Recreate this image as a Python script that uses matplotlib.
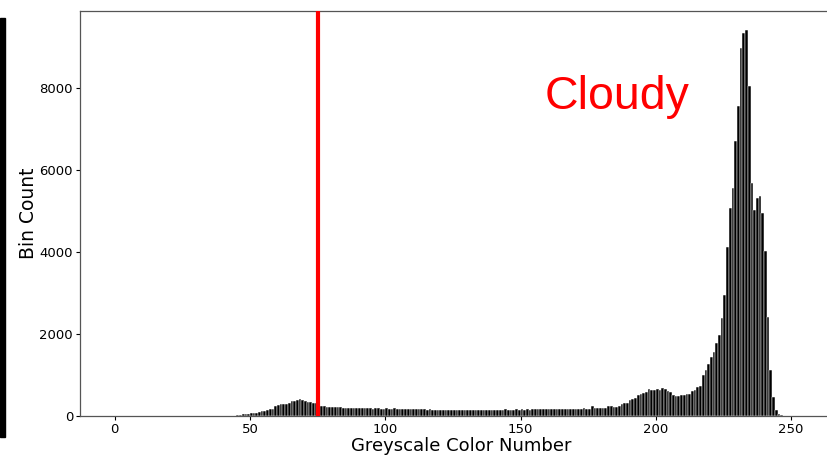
import matplotlib
matplotlib.use("Agg")
import matplotlib.pyplot as plt
from matplotlib.patches import Rectangle

# pixel counts per grey level 0..255
grey_levels = list(range(256))
counts = [
    # 0-44
    0, 0, 0, 0, 0, 0, 0, 0, 0, 0, 0, 0, 0, 0, 0,
    0, 0, 0, 0, 0, 0, 0, 0, 0, 0, 0, 0, 0, 0, 0,
    0, 0, 0, 0, 0, 0, 0, 0, 0, 0, 0, 0, 0, 0, 0,
    # 45-59
    20, 35, 50, 55, 60, 70, 75, 80, 100, 110, 110, 150, 160, 170, 240,
    # 60-75
    280, 290, 300, 300, 310, 360, 370, 380, 420, 400, 370, 350, 340, 320, 310, 280,
    # 76-85
    240, 235, 230, 225, 220, 220, 215, 210, 205, 200,
    # 86-100
    200, 195, 195, 190, 195, 200, 190, 185, 195, 180, 185, 190, 175, 180, 185,
    # 101-120
    180, 175, 185, 170, 175, 180, 170, 165, 175, 170,
    160, 165, 170, 160, 155, 165, 150, 155, 150, 145,
    # 121-140
    145, 150, 140, 145, 140, 150, 145, 140, 150, 145,
    140, 150, 145, 150, 140, 145, 150, 155, 145, 150,
    # 141-160
    150, 155, 150, 160, 150, 155, 150, 160, 155, 165,
    150, 160, 155, 165, 160, 165, 170, 160, 165, 170,
    # 161-180
    170, 165, 175, 170, 180, 175, 170, 175, 180, 170,
    175, 180, 185, 175, 180, 240, 190, 185, 200, 195,
    # 181-216
    200, 250, 240, 230, 230, 240, 300, 310, 320, 400,
    410, 430, 500, 540, 560, 580, 650, 640, 630, 660,
    640, 680, 670, 600, 590, 500, 480, 490, 520, 500,
    540, 530, 620, 640, 700, 720,
    # 217-246
    1000, 1120, 1260, 1450, 1570, 1780, 1980, 2390, 2950, 4130,
    5070, 5560, 6690, 7550, 8980, 9340, 9400, 8040, 5680, 5030,
    5310, 5370, 4950, 4010, 2420, 1120, 470, 150, 50, 20,
    # 247-255
    0, 0, 0, 0, 0, 0, 0, 0, 0,
]
threshold = 75
x_ticks = [0, 50, 100, 150, 200, 250]
y_ticks = [0, 2000, 4000, 6000, 8000]

fig = plt.figure(figsize=(8.28, 4.55), dpi=100)
ax = fig.add_axes([80 / 828, 39 / 455, 762 / 828, 405 / 455])

ax.bar(grey_levels, counts, width=1.0, align='edge',
       color='black', edgecolor='white', linewidth=0.35)
ax.axvline(threshold, color='red', linewidth=3.0, zorder=5)

ax.text(159, 7470, 'Cloudy', color='red', fontsize=33.5,
        family='Liberation Sans', ha='left', va='baseline')

ax.set_xlim(-12.8, 268.8)
ax.set_ylim(0, 9870)
ax.set_xticks(x_ticks)
ax.set_yticks(y_ticks)
ax.tick_params(labelsize=9.5, length=3, width=0.8, pad=2)
ax.set_xlabel('Greyscale Color Number', fontsize=13, labelpad=1)
ax.set_ylabel('Bin Count', fontsize=13.5, labelpad=1)
for s in ax.spines.values():
    s.set_color('#555555')
    s.set_linewidth(0.9)
ax.spines['right'].set_visible(False)

# dark strip along the left edge
fig.add_artist(Rectangle((0, 18 / 455), 5 / 828, 419 / 455,
                         transform=fig.transFigure, color='black'))

fig.savefig('out.png', dpi=100)
